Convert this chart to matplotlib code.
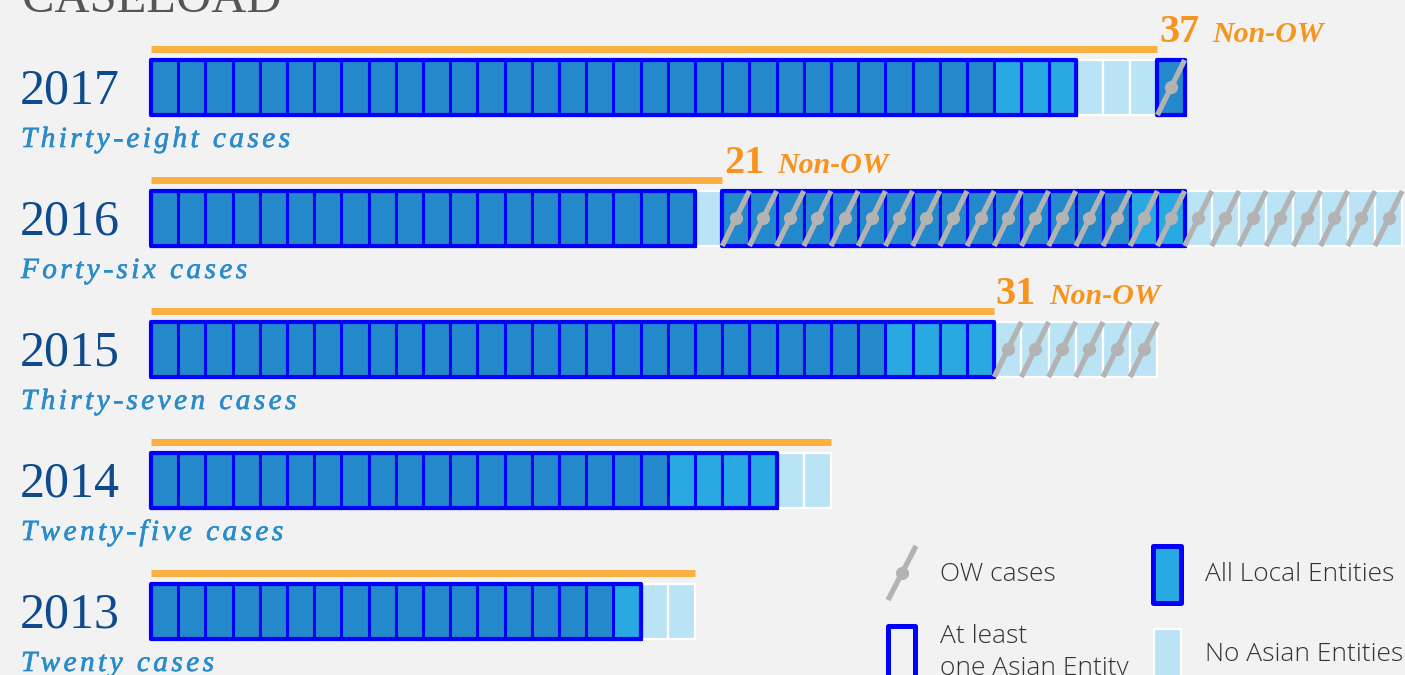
import matplotlib
matplotlib.use("Agg")
import matplotlib.pyplot as plt
import matplotlib.patheffects as pe
from matplotlib.patches import Rectangle
from matplotlib.font_manager import FontProperties, findfont, get_font

# ---------------- data ----------------
years = [2017, 2016, 2015, 2014, 2013]
case_words = ["Thirty-eight cases", "Forty-six cases", "Thirty-seven cases",
              "Twenty-five cases", "Twenty cases"]
non_ow_counts = [37, 21, 31, 25, 20]
show_non_ow = [True, True, True, False, False]

# runs of cases: (number of cases, entity type, OW case flag)
cells_2017 = [(31, "mixed", 0), (3, "local", 0), (3, "none", 0), (1, "mixed", 1)]
cells_2016 = [(20, "mixed", 0), (1, "none", 0), (15, "mixed", 1), (2, "local", 1), (8, "none", 1)]
cells_2015 = [(27, "mixed", 0), (4, "local", 0), (6, "none", 1)]
cells_2014 = [(19, "mixed", 0), (4, "local", 0), (2, "none", 0)]
cells_2013 = [(17, "mixed", 0), (1, "local", 0), (2, "none", 0)]
rows = [cells_2017, cells_2016, cells_2015, cells_2014, cells_2013]

title = "CASELOAD"
legend_labels = ["OW cases", "All Local Entities", "At least\none Asian Entity", "No Asian Entities"]

# ---------------- style ----------------
BG = "#f2f2f2"
FILL = {"mixed": "#2389cb", "local": "#29a9e1", "none": "#bae3f5"}
EDGE = "#0000ff"
ORANGE_LINE = "#fbb040"
ORANGE_TEXT = "#f7941d"
OW_GRAY = "#b3b3b3"
YEAR_COLOR = "#0e4b8e"
SUB_COLOR = "#2a8ccc"
TITLE_COLOR = "#555555"
LEG_TEXT = "#333333"
SERIF = "Liberation Serif"
SANS = "Open Sans"

W, H = 1405, 675
CELL_PX, ROW_PX, X0_PX, Y0_PX = 27.2, 131.0, 151.0, 87.5
CELL_H = 55 / ROW_PX

fig = plt.figure(figsize=(W / 100, H / 100), dpi=100)
fig.patch.set_facecolor(BG)
ax = fig.add_axes([0, 0, 1, 1])
ax.set_facecolor(BG)
ax.axis("off")
ax.set_xlim(-X0_PX / CELL_PX, (W - X0_PX) / CELL_PX)
ax.set_ylim((H - Y0_PX) / ROW_PX, -Y0_PX / ROW_PX)


def P(xp, yp):
    return ((xp - X0_PX) / CELL_PX, (yp - Y0_PX) / ROW_PX)


def spaced_text(x, y, s, size, spacing_px, color, family, style="normal", weight="normal"):
    fp = FontProperties(family=family, style=style, weight=weight, size=size)
    font = get_font(findfont(fp))
    font.set_size(size, fig.dpi)
    xd0, yd0 = ax.transData.transform((x, y))
    inv = ax.transData.inverted()
    cur = xd0
    for ch in s:
        if ch != " ":
            xx, yy = inv.transform((cur, yd0))
            ax.text(xx, yy, ch, fontproperties=fp, color=color, ha="left", va="baseline",
                    path_effects=[pe.withStroke(linewidth=0.5, foreground=color)])
        g = font.load_char(ord(ch))
        cur += g.linearHoriAdvance / 65536 + spacing_px


def ow_marker(x, y, h):
    ax.plot([x + 0.0, x + 1.0], [y + h / 2, y - h / 2], color=OW_GRAY, lw=3.8,
            solid_capstyle="butt", zorder=6)
    ax.plot([x + 0.5], [y], "o", color=OW_GRAY, ms=9.5, mec="none", zorder=7)


# title (mostly cut off above the canvas)
tx, ty = P(22, 12)
ax.text(tx, ty, title, family=SERIF, fontsize=35, color=TITLE_COLOR, ha="left", va="baseline")

for r, (year, words, segs, nonow, shown) in enumerate(zip(years, case_words, rows, non_ow_counts, show_non_ow)):
    cells = []
    for n, kind, ow in segs:
        cells += [(kind, ow)] * n
    y0 = r - CELL_H / 2
    for i, (kind, ow) in enumerate(cells):
        outlined = kind != "none"
        ax.add_patch(Rectangle((i, y0), 1, CELL_H, facecolor=FILL[kind],
                               edgecolor=EDGE if outlined else "white",
                               lw=2.2 if outlined else 1.6,
                               zorder=3 if outlined else 2))
    i = 0
    while i < len(cells):
        if cells[i][0] != "none":
            j = i
            while j < len(cells) and cells[j][0] != "none":
                j += 1
            ax.add_patch(Rectangle((i, y0), j - i, CELL_H, facecolor="none", edgecolor=EDGE,
                                   lw=3.0, joinstyle="round", zorder=4))
            i = j
        else:
            i += 1
    for i, (kind, ow) in enumerate(cells):
        if ow:
            ow_marker(i, r, CELL_H)
    ax.plot([0, nonow], [r - 38 / ROW_PX] * 2, color=ORANGE_LINE, lw=5, solid_capstyle="butt", zorder=3)
    if shown:
        ax.text(nonow + 0.06, r - 45.5 / ROW_PX, str(nonow), family=SERIF, weight="bold",
                fontsize=29, color=ORANGE_TEXT, ha="left", va="baseline")
        ax.text(nonow + 2.02, r - 45.5 / ROW_PX, "Non-OW", family=SERIF, weight="bold",
                style="italic", fontsize=21.5, color=ORANGE_TEXT, ha="left", va="baseline")
    yx, yy = P(20, 104)
    ax.text(yx, r + yy, str(year), family=SERIF, fontsize=36, color=YEAR_COLOR,
            ha="left", va="baseline")
    sx, sy = P(21, 147)
    spaced_text(sx, r + sy, words, 21, 3.5, SUB_COLOR, SERIF, style="italic")

# ---------------- legend ----------------
a = P(888, 600)
b = P(916, 546)
c = P(902, 573)
ax.plot([a[0], b[0]], [a[1], b[1]], color=OW_GRAY, lw=3.8, solid_capstyle="butt")
ax.plot([c[0]], [c[1]], "o", color=OW_GRAY, ms=9.5, mec="none")
t = P(940, 581)
ax.text(t[0], t[1], legend_labels[0], family=SANS, weight="light", fontsize=19,
        color=LEG_TEXT, ha="left", va="baseline")

bl = P(1153, 603)
tr = P(1181, 546)
ax.add_patch(Rectangle(bl, tr[0] - bl[0], tr[1] - bl[1], facecolor=FILL["local"],
                       edgecolor=EDGE, lw=3.6, joinstyle="round"))
t = P(1205, 581)
ax.text(t[0], t[1], legend_labels[1], family=SANS, weight="light", fontsize=19,
        color=LEG_TEXT, ha="left", va="baseline")

bl = P(888, 700)
tr = P(915, 626)
ax.add_patch(Rectangle(bl, tr[0] - bl[0], tr[1] - bl[1], facecolor="none",
                       edgecolor=EDGE, lw=3.6, joinstyle="round"))
t = P(940, 643)
t2 = P(940, 675)
l1, l2 = legend_labels[2].split("\n")
ax.text(t[0], t[1], l1, family=SANS, weight="light", fontsize=19,
        color=LEG_TEXT, ha="left", va="baseline")
ax.text(t2[0], t2[1], l2, family=SANS, weight="light", fontsize=19,
        color=LEG_TEXT, ha="left", va="baseline")

bl = P(1154, 700)
tr = P(1181, 629)
ax.add_patch(Rectangle(bl, tr[0] - bl[0], tr[1] - bl[1], facecolor=FILL["none"],
                       edgecolor="white", lw=1.6))
t = P(1205, 661)
ax.text(t[0], t[1], legend_labels[3], family=SANS, weight="light", fontsize=19,
        color=LEG_TEXT, ha="left", va="baseline")

fig.savefig("out.png", dpi=100, facecolor=BG)
